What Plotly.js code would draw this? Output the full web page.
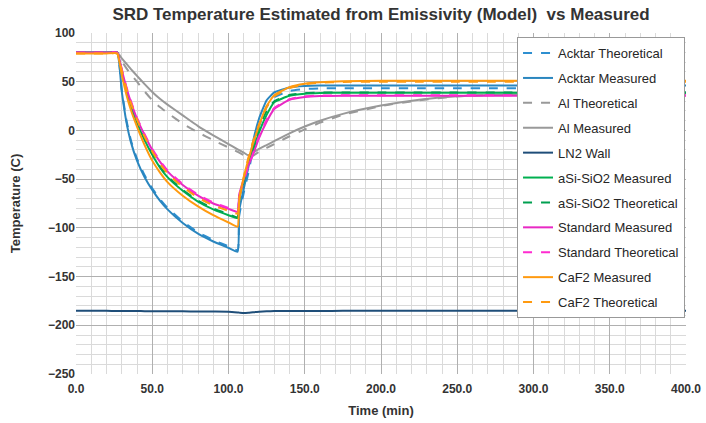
<!DOCTYPE html>
<html>
<head>
<meta charset="utf-8">
<script src="https://cdn.plot.ly/plotly-3.0.1.min.js"></script>
<style>html,body{margin:0;padding:0;background:#fff;}#chart{width:706px;height:423px;}</style>
</head>
<body>
<div id="chart"></div>
<script>
// Time axis (min)
var timeMin = [0, 10, 20, 27, 30, 33, 36, 40, 45, 50, 55, 60, 70, 80, 90, 100, 106, 107, 110, 113, 116, 120, 125, 130, 140, 150, 160, 175, 200, 225, 250, 275, 300, 350, 400];

// Series values (C)
var acktarTheo = [80, 80, 80, 80, 42, 11, -10, -29, -46, -59.5, -70.5, -79.5, -93.5, -104.5, -112.5, -119, -123, -88, -64, -44, -20, 4, 24, 34, 40.5, 42.5, 43.2, 43.4, 43.4, 43.4, 43.4, 43.4, 43.4, 43.4, 43.4];
var acktarMeas = [80, 80, 80, 80, 40, 9, -12, -31, -48, -61, -72, -81, -95, -106, -114, -120.5, -124.5, -82, -60, -38, -12, 12, 31, 39, 44, 45.5, 46, 46, 46, 46, 46, 46, 46, 46, 46];
var alTheo = [80, 80, 80, 80, 71, 64, 57.5, 50, 40, 31, 24, 18, 7, -2, -10, -17.5, -22, -22.8, -25.5, -28.5, -26, -22, -18, -14, -6, 1, 8, 16, 25, 31, 35, 36.5, 37.3, 37.7, 38];
var alMeas = [80, 80, 80, 80, 74, 68.5, 63, 56, 47.5, 39.5, 32.5, 26.5, 15.5, 4.5, -5, -14, -19.5, -20.3, -22.8, -25.5, -23, -19, -15, -11, -3, 4, 10, 17, 25.5, 31.5, 35, 36.5, 37.3, 37.7, 38];
var ln2Wall = [-185, -185, -185.2, -185.3, -185.3, -185.4, -185.4, -185.4, -185.5, -185.5, -185.6, -185.6, -185.7, -185.8, -185.9, -186, -186.8, -187, -187.5, -187.2, -186.6, -186, -185.6, -185.4, -185.3, -185.3, -185.3, -185.2, -185.2, -185.2, -185.2, -185.2, -185.2, -185.2, -185.2];
var asiMeas = [80, 80, 80, 80, 60, 41, 25, 8, -10, -25, -38, -48, -62, -73, -81, -87, -90, -70, -52, -35, -21, -2, 16, 29, 35.5, 37.7, 38.4, 38.7, 38.7, 38.7, 38.7, 38.7, 38.7, 38.7, 38.7];
var asiTheo = [80, 80, 80, 80, 61, 42, 26, 9, -9, -24, -37, -47, -61, -72, -80, -86, -89, -72, -52, -33, -17, 3, 20, 30, 36.5, 38.3, 38.8, 39, 39, 39, 39, 39, 39, 39, 39];
var stdMeas = [80, 80, 80, 80, 62, 44, 29, 12, -5, -20, -32, -42, -56, -67, -75, -80.5, -83.5, -66, -50, -36, -25, -8, 9, 22, 31.5, 34.3, 35.3, 35.6, 35.6, 35.6, 35.6, 35.6, 35.6, 35.6, 35.6];
var stdTheo = [80, 80, 80, 80, 63, 45, 30, 13, -4, -19, -31, -41, -55, -66, -74, -79.5, -82.5, -68, -52, -37, -24, -6, 11, 23, 32, 35, 35.8, 36, 36, 36, 36, 36, 36, 36, 36];
var caf2Meas = [79, 79, 79, 79, 57, 37, 21, 4, -15, -31, -43, -53, -67, -78, -87, -94.5, -98.8, -72, -48, -30, -14, 5, 25, 36, 44.5, 48, 49.5, 50.5, 51, 51, 51, 51, 51, 51, 51];
var caf2Theo = [79, 79, 79, 79, 61.5, 43, 28, 11, -6.5, -21.5, -34, -44, -58, -69, -77, -82.5, -85.5, -70, -48, -28, -12, 6, 24, 35, 43.5, 47.5, 49, 49.8, 50, 50, 50, 50, 50, 50, 50];

var seriesNames = ["Acktar Theoretical", "Acktar Measured", "Al Theoretical", "Al Measured", "LN2 Wall", "aSi-SiO2 Measured", "aSi-SiO2 Theoretical", "Standard Measured", "Standard Theoretical", "CaF2 Measured", "CaF2 Theoretical"];
var seriesValues = [acktarTheo, acktarMeas, alTheo, alMeas, ln2Wall, asiMeas, asiTheo, stdMeas, stdTheo, caf2Meas, caf2Theo];
var seriesColors = ["#2e8fd0", "#2a86bf", "#999999", "#999999", "#1f4e79", "#00b050", "#00a050", "#e829c4", "#ff2bd0", "#ff9a10", "#ff9a10"];
var seriesDash = ["dash", "solid", "dash", "solid", "solid", "solid", "dash", "solid", "dash", "solid", "dash"];

var traces = seriesNames.map(function (n, i) {
  return {
    x: timeMin, y: seriesValues[i], name: n, type: "scatter", mode: "lines",
    legendgroup: "g" + i,
    line: {color: seriesColors[i], width: 2, dash: seriesDash[i], shape: "spline", smoothing: 0.4}
  };
});

var fontFam = "Liberation Sans, Arial, sans-serif";
var layout = {
  width: 706, height: 423,
  margin: {l: 76, r: 20, t: 33, b: 49},
  paper_bgcolor: "#ffffff", plot_bgcolor: "#ffffff",
  title: {text: "SRD Temperature Estimated from Emissivity (Model)  vs Measured", x: 0.5, xref: "paper", y: 0.967, yanchor: "middle",
          font: {family: fontFam, size: 17, weight: "bold", color: "#333333"}},
  xaxis: {
    range: [0, 400], dtick: 50, tick0: 0, tickformat: ".1f",
    showgrid: true, gridcolor: "#b0b0b0", gridwidth: 1, zeroline: false,
    showline: false, ticks: "", ticklabelstandoff: 6,
    minor: {dtick: 10, showgrid: true, gridcolor: "#dadada", gridwidth: 1},
    tickfont: {family: fontFam, size: 12, weight: "bold", color: "#333333"},
    title: {text: "Time (min)", font: {family: fontFam, size: 13, weight: "bold", color: "#333333"}, standoff: 10}
  },
  yaxis: {
    range: [-250, 100], dtick: 50, tick0: 0,
    showgrid: true, gridcolor: "#b0b0b0", gridwidth: 1, zeroline: false,
    showline: false, ticks: "",
    minor: {dtick: 10, showgrid: true, gridcolor: "#dadada", gridwidth: 1},
    tickfont: {family: fontFam, size: 12, weight: "bold", color: "#333333"},
    title: {text: "Temperature (C)", font: {family: fontFam, size: 13, weight: "bold", color: "#333333"}, standoff: 24}
  },
  showlegend: true,
  legend: {
    x: 0.723, y: 0.988, xanchor: "left", yanchor: "top",
    bgcolor: "#ffffff", bordercolor: "#999999", borderwidth: 1,
    font: {family: fontFam, size: 13, color: "#262626"},
    tracegroupgap: 5, traceorder: "grouped"
  }
};

Plotly.newPlot("chart", traces, layout, {displayModeBar: false, staticPlot: true});
</script>
</body>
</html>
